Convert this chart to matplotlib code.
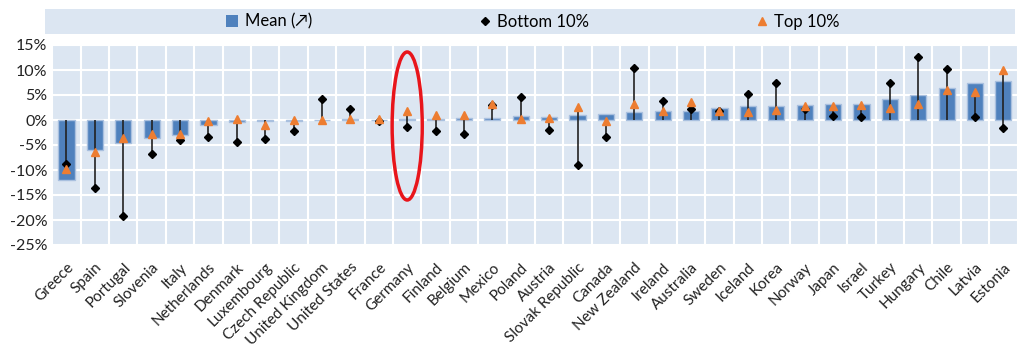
import matplotlib
matplotlib.use("Agg")
import matplotlib.pyplot as plt
import numpy as np
from matplotlib.patches import Ellipse, Rectangle
from matplotlib.lines import Line2D

plt.rcParams['font.family'] = ['Lato', 'DejaVu Sans']

countries = ["Greece", "Spain", "Portugal", "Slovenia", "Italy", "Netherlands", "Denmark",
             "Luxembourg", "Czech Republic", "United Kingdom", "United States", "France",
             "Germany", "Finland", "Belgium", "Mexico", "Poland", "Austria", "Slovak Republic",
             "Canada", "New Zealand", "Ireland", "Australia", "Sweden", "Iceland", "Korea",
             "Norway", "Japan", "Israel", "Turkey", "Hungary", "Chile", "Latvia", "Estonia"]

mean = [-11.9, -5.9, -4.5, -3.5, -2.9, -1.0, -0.4,
        -0.2, -0.1, 0.05, 0.2, 0.1,
        0.3, 0.3, 0.4, 0.4, 0.8, 0.6, 1.1,
        1.3, 1.7, 1.9, 1.9, 2.4, 2.8, 2.9,
        3.1, 3.3, 3.3, 4.3, 5.1, 6.5, 7.4, 7.9]

bottom10 = [-8.7, -13.5, -19.1, -6.7, -3.9, -3.3, -4.4,
            -3.8, -2.1, 4.2, 2.2, -0.1,
            -1.3, -2.1, -2.7, 3.0, 4.7, -1.9, -9.0,
            -3.3, 10.5, 3.8, 2.3, 1.9, 5.3, 7.4,
            2.3, 0.9, 0.7, 7.4, 12.7, 10.2, 0.6, -1.6]

top10 = [-9.7, -6.3, -3.5, -2.7, -2.7, -0.2, 0.2,
         -0.9, 0.1, 0.1, 0.3, 0.3,
         1.9, 1.1, 1.1, 3.3, 0.2, 0.5, 2.7,
         -0.2, 3.2, 1.8, 3.6, 1.8, 1.6, 2.1,
         2.8, 2.9, 3.1, 2.5, 3.2, 6.1, 5.7, 10.0]

yticks = [15, 10, 5, 0, -5, -10, -15, -20, -25]

BG = '#DCE6F2'
BAR = '#4F81BD'
ORANGE = '#ED7D31'

fig = plt.figure(figsize=(10.24, 3.55), dpi=100)
ax = fig.add_axes([52.3/1024, 1 - 245/355, (1017.6 - 52.3)/1024, 200/355])
ax.set_facecolor(BG)

x = np.arange(len(countries))
m = np.array(mean); b = np.array(bottom10); t = np.array(top10)

ax.bar(x, m, width=0.57, color=BAR, edgecolor='#A9C0DF', linewidth=1.0, zorder=2)
lo = np.minimum(0, np.minimum(b, t))
hi = np.maximum(0, np.maximum(b, t))
ax.vlines(x, lo, hi, color='#222222', linewidth=1.2, zorder=3)
ax.plot(x, b, linestyle='none', marker='D', markersize=4.3, color='black', zorder=4)
ax.plot(x, t, linestyle='none', marker='^', markersize=6.0, color=ORANGE, zorder=5)

ax.set_xlim(-0.5, len(countries) - 0.5)
ax.set_ylim(-25, 15)
ax.set_yticks(yticks)
ax.set_yticklabels([f"{v}%" for v in yticks], fontsize=11.5, color='#222222')
ax.set_xticks(x)
ax.set_xticklabels(countries, rotation=45, ha='right', rotation_mode='anchor',
                   fontsize=11, color='#222222')
ax.set_xticks(np.arange(len(countries) + 1) - 0.5, minor=True)
ax.tick_params(axis='both', length=0, which='both')
ax.tick_params(axis='x', which='major', pad=11)
ax.grid(True, axis='y', which='major', color='white', linewidth=1.5, zorder=0)
ax.grid(True, axis='x', which='minor', color='white', linewidth=1.5, zorder=0)
ax.grid(False, axis='x', which='major')
ax.set_axisbelow(True)
for s in ax.spines.values():
    s.set_visible(False)

gi = countries.index("Germany")
ell = Ellipse((gi, -1.2), width=1.06, height=29.6, fill=False, edgecolor='#E8151B',
              linewidth=2.5, zorder=6, clip_on=False)
ax.add_patch(ell)

# legend band
fig.patches.append(Rectangle((45/1024, 1 - 34/355), (1015 - 45)/1024, 25/355,
                             transform=fig.transFigure, facecolor=BG, edgecolor='none', zorder=0))
handles = [Rectangle((0, 0), 1, 1, facecolor=BAR, edgecolor='none'),
           Line2D([], [], linestyle='none', marker='D', markersize=4.0, color='black'),
           Line2D([], [], linestyle='none', marker='^', markersize=6.0, color=ORANGE)]
labels = ["Mean (\u2197)", "Bottom 10%", "Top 10%"]
fig.legend(handles, labels, loc='center', bbox_to_anchor=(533/1024, 1 - 21.5/355), ncol=3,
           frameon=False, fontsize=12, columnspacing=10.0, handlelength=0.7,
           handletextpad=0.4, handleheight=0.7)

fig.savefig('out.png', dpi=100, facecolor='white')
